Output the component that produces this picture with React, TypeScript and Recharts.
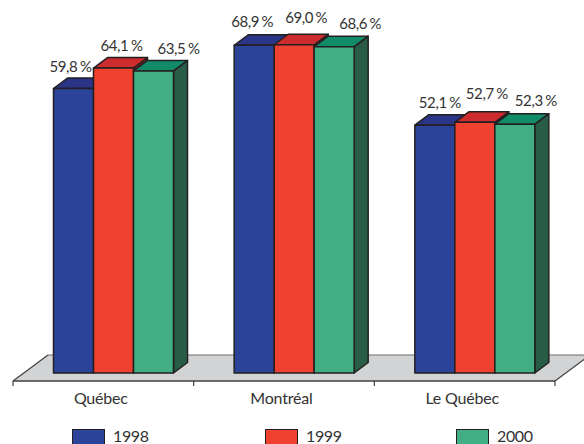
import { BarChart, Bar, XAxis, YAxis, Legend, LabelList, usePlotArea } from "recharts";

const FONT = "Lato, sans-serif";
const TEXT = "#333333";
const OUTLINE = "#231f20";

const regions = ["Québec", "Montréal", "Le Québec"];
const values1998 = [59.8, 68.9, 52.1];
const values1999 = [64.1, 69.0, 52.7];
const values2000 = [63.5, 68.6, 52.3];

const rows = regions.map((region, i) => ({
  region,
  y1998: values1998[i],
  y1999: values1999[i],
  y2000: values2000[i],
}));

const DEPTH_X = 14;
const DEPTH_Y = 10.5;

const palette = {
  y1998: { front: "#2b4499", top: "#2b3585", side: "#1c2a66" },
  y1999: { front: "#f04030", top: "#cc2c2e", side: "#a52020" },
  y2000: { front: "#41ae84", top: "#128b68", side: "#285c46" },
};

// the labels in the source were placed by hand, not centred on their bars
const labelNudge = {
  y1998: [[-3, 23], [-2, 24], [5, 23]],
  y1999: [[8, 23], [12, 28], [12, 29]],
  y2000: [[25, 23], [26, 24], [21, 24]],
};

function Bar3D({ x, y, width, height, colors }: any) {
  const r = x + width;
  const b = y + height;
  return (
    <g stroke={OUTLINE} strokeWidth={1.5} strokeLinejoin="round">
      <polygon points={`${r},${y} ${r + DEPTH_X},${y - DEPTH_Y} ${r + DEPTH_X},${b - DEPTH_Y} ${r},${b}`} fill={colors.side} />
      <polygon points={`${x},${y} ${x + DEPTH_X},${y - DEPTH_Y} ${r + DEPTH_X},${y - DEPTH_Y} ${r},${y}`} fill={colors.top} />
      <rect x={x} y={y} width={width} height={height} fill={colors.front} />
    </g>
  );
}

// grey floor under the bars, with the axis line and its ticks along the front edge
function Floor() {
  const plot = usePlotArea();
  if (!plot) return null;
  const left = plot.x - 10.5;
  const right = left + plot.width;
  const base = plot.y + plot.height;
  const front = base + 8;
  const back = base - 18;
  const step = plot.width / regions.length;
  const ticks = [0, 1, 2, 3].map((i) => left + i * step);
  return (
    <g>
      <polygon points={`${left},${front} ${left + 35},${back} ${right + 35},${back} ${right},${front}`} fill="#d1d3d4" />
      <line x1={left + 35} y1={back} x2={right + 35} y2={back} stroke="#6d6e71" strokeWidth={1.2} />
      <line x1={left} y1={front} x2={left + 35} y2={back} stroke="#414042" strokeWidth={1.2} />
      <line x1={right} y1={front} x2={right + 35} y2={back} stroke="#414042" strokeWidth={1.2} />
      <line x1={left} y1={front} x2={right} y2={front} stroke="#414042" strokeWidth={1.5} />
      {ticks.map((t) => (
        <line key={t} x1={t} y1={front} x2={t} y2={front + 5} stroke="#414042" strokeWidth={1.2} />
      ))}
    </g>
  );
}

function ValueLabel({ x, y, width, value, index, nudges }: any) {
  const [dx, dy] = nudges[index];
  return (
    <text
      x={x + width / 2 + dx}
      y={y - dy}
      textAnchor="middle"
      dominantBaseline="central"
      fontFamily={FONT}
      fontSize={15}
      letterSpacing={-0.4}
      fill={TEXT}
    >
      {value.toFixed(1).replace(".", ",")}
      <tspan dx={2.5}>%</tspan>
    </text>
  );
}

const legendItems = [
  { name: "1998", color: palette.y1998.front, left: 72 },
  { name: "1999", color: palette.y1999.front, left: 265 },
  { name: "2000", color: palette.y2000.front, left: 456 },
];

function YearLegend() {
  return (
    <div style={{ position: "relative", width: 584, height: 15, fontFamily: FONT, fontSize: 16, letterSpacing: -0.4, color: TEXT }}>
      {legendItems.map((item) => (
        <div key={item.name}>
          <div
            style={{
              position: "absolute",
              left: item.left,
              top: 0,
              width: 31,
              height: 14,
              background: item.color,
              border: `1px solid ${OUTLINE}`,
            }}
          />
          <div style={{ position: "absolute", left: item.left + 41, top: -3, lineHeight: "19px" }}>{item.name}</div>
        </div>
      ))}
    </div>
  );
}

export default function App() {
  return (
    <div style={{ position: "absolute", left: 0, top: 0, width: 584, height: 444, overflow: "hidden", background: "#fff" }}>
      <BarChart
        width={584}
        height={444}
        data={rows}
        margin={{ top: 40, right: 18.5, bottom: 41, left: 23.5 }}
        barCategoryGap={30}
        barGap={0}
      >
        <Floor />
        <XAxis
          dataKey="region"
          height={30}
          axisLine={false}
          tickLine={false}
          tickMargin={14}
          tick={{ fontSize: 16, fill: TEXT, fontFamily: FONT, letterSpacing: -0.2, dx: -13 }}
        />
        <YAxis hide domain={[0, 70]} />
        <Legend
          layout="horizontal"
          verticalAlign="middle"
          content={<YearLegend />}
          wrapperStyle={{ left: 0, top: 429, width: 584 }}
        />
        {(["y1998", "y1999", "y2000"] as const).map((key) => (
          <Bar
            key={key}
            dataKey={key}
            isAnimationActive={false}
            shape={(props: any) => <Bar3D {...props} colors={palette[key]} />}
          >
            <LabelList dataKey={key} content={(props: any) => <ValueLabel {...props} nudges={labelNudge[key]} />} />
          </Bar>
        ))}
      </BarChart>
    </div>
  );
}
